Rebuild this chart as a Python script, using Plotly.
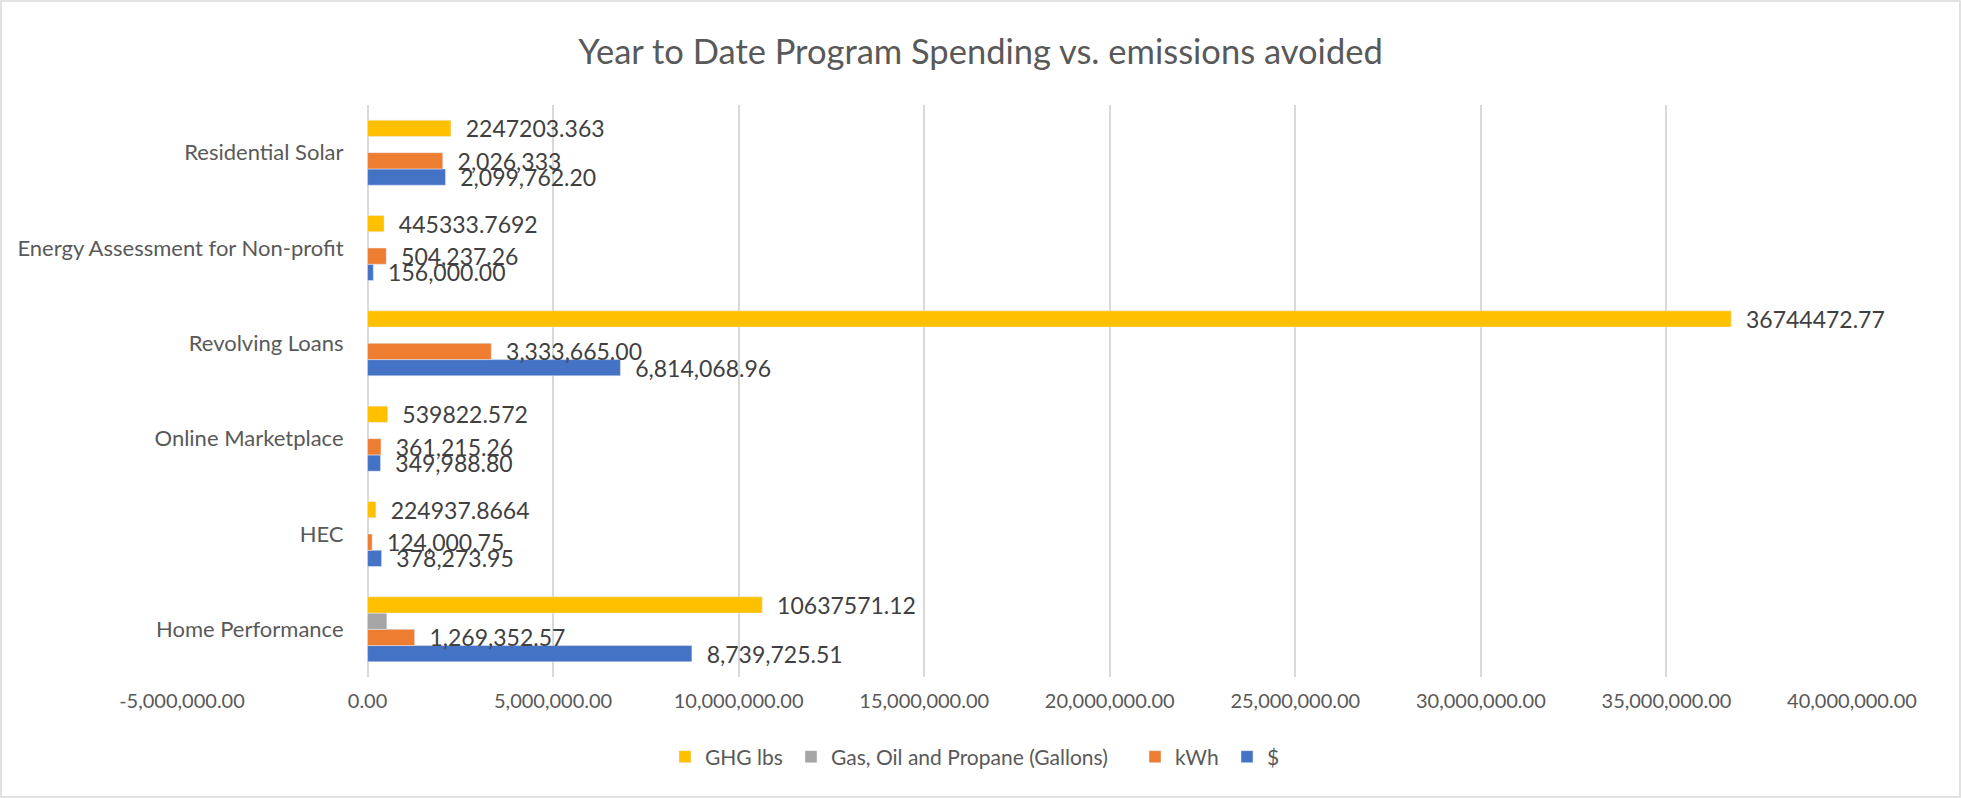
import plotly.graph_objects as go

categories = ["Home Performance", "HEC", "Online Marketplace", "Revolving Loans",
              "Energy Assessment for Non-profit", "Residential Solar"]

dollars = [8739725.51, 378273.95, 349988.80, 6814068.96, 156000.00, 2099762.20]
kwh = [1269352.57, 124000.75, 361215.26, 3333665.00, 504237.26, 2026333]
kwh_text = ["1,269,352.57", "124,000.75", "361,215.26", "3,333,665.00", "504,237.26", "2,026,333"]
gallons = [520000, None, None, None, None, None]
ghg = [10637571.12, 224937.8664, 539822.572, 36744472.77, 445333.7692, 2247203.363]
ghg_text = ["10637571.12", "224937.8664", "539822.572", "36744472.77", "445333.7692", "2247203.363"]

tick_vals = [-5000000, 0, 5000000, 10000000, 15000000, 20000000, 25000000,
             30000000, 35000000, 40000000]
tick_text = [f"{v:,.2f}" for v in tick_vals]

FONT = "Lato"
label_font = dict(family=FONT, size=23, color="#404040")
tt = "  %{text}"

W, H = 1961, 798
ml, mr, mt, mb = 182, 109, 105, 121
pw = W - ml - mr
ph = H - mt - mb

fig = go.Figure()
fig.add_trace(go.Bar(y=categories, x=dollars, orientation="h", name="$",
                     marker_color="#4472C4", legend="legend4",
                     text=[f"{v:,.2f}" for v in dollars], texttemplate=tt,
                     textposition="outside", constraintext="none",
                     textfont=label_font, cliponaxis=False))
fig.add_trace(go.Bar(y=categories, x=kwh, orientation="h", name="kWh",
                     marker_color="#ED7D31", legend="legend3",
                     text=kwh_text, texttemplate=tt, textposition="outside",
                     constraintext="none", textfont=label_font, cliponaxis=False))
fig.add_trace(go.Bar(y=categories, x=gallons, orientation="h",
                     name="Gas, Oil and Propane (Gallons)", legend="legend2",
                     marker_color="#A5A5A5"))
fig.add_trace(go.Bar(y=categories, x=ghg, orientation="h", name="GHG lbs",
                     marker_color="#FFC000", legend="legend",
                     text=ghg_text, texttemplate=tt, textposition="outside",
                     constraintext="none", textfont=label_font, cliponaxis=False))

leg_y = -(757 - (mt + ph)) / ph
leg_font = dict(family=FONT, size=21, color="#595959")


def leg(px):
    return dict(orientation="h", x=(px - 41 - ml) / pw, xanchor="left", y=leg_y,
                yanchor="middle", font=leg_font, itemwidth=30,
                bgcolor="rgba(0,0,0,0)")


fig.update_layout(
    width=W, height=H,
    margin=dict(l=ml, r=mr, t=mt, b=mb, autoexpand=False),
    paper_bgcolor="white", plot_bgcolor="white",
    barmode="group", bargap=0.318, bargroupgap=0.0,
    title=dict(text="Year to Date Program Spending vs. emissions avoided",
               x=0.5, xanchor="center", y=1 - 52 / H, yanchor="middle",
               font=dict(family=FONT, size=34.5, color="#595959")),
    font=dict(family=FONT, size=21, color="#595959"),
    xaxis=dict(range=[-5000000, 40000000], tickvals=tick_vals, ticktext=tick_text,
               showgrid=True, gridcolor="#D9D9D9", gridwidth=1.5, zeroline=False,
               showline=False, tickfont=dict(family=FONT, size=20, color="#595959"),
               ticks="", ticklabelstandoff=10, automargin=False),
    yaxis=dict(anchor="free", position=1 / 9, showgrid=False, zeroline=False,
               showline=False, ticks="", automargin=False,
               tickfont=dict(family=FONT, size=22, color="#595959"),
               ticklabelstandoff=24),
    legend=leg(706),
    legend2=leg(832),
    legend3=leg(1176),
    legend4=leg(1268),
    showlegend=True,
    shapes=[dict(type="rect", xref="paper", yref="paper",
                 x0=-(ml - 1) / pw, x1=(pw + mr - 1) / pw,
                 y0=-(mb - 1) / ph, y1=(ph + mt - 1) / ph,
                 line=dict(color="#D9D9D9", width=1.5), fillcolor="rgba(0,0,0,0)",
                 layer="below")],
)

fig.write_html("out.html", config={"displayModeBar": False},
               post_script="document.body.style.margin='0';document.body.style.padding='0';")
